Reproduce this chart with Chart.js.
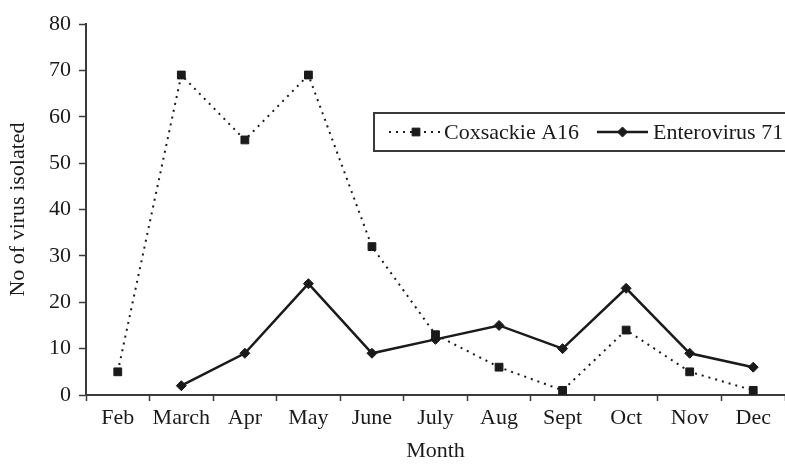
<!DOCTYPE html>
<html>
<head>
<meta charset="utf-8">
<title>Virus isolations by month</title>
<script src="https://cdn.jsdelivr.net/npm/chart.js@4/dist/chart.umd.min.js"></script>
<style>
  html, body { margin: 0; padding: 0; background: #fff; overflow: hidden; }
  .chart-wrapper { position: relative; width: 785px; height: 464px; }
</style>
</head>
<body>
<div class="chart-wrapper"><canvas id="virus-chart"></canvas></div>
<script>
// data
const months = ['Feb', 'March', 'Apr', 'May', 'June', 'July', 'Aug', 'Sept', 'Oct', 'Nov', 'Dec'];
const coxsackieA16 = [5, 69, 55, 69, 32, 13, 6, 1, 14, 5, 1];
const enterovirus71 = [null, 2, 9, 24, 9, 12, 15, 10, 23, 9, 6];
const yTicks = [0, 10, 20, 30, 40, 50, 60, 70, 80];

const FONT = "'Liberation Serif', 'Times New Roman', serif";
const INK = '#1a1a1a';
const AXIS = '#3a3a3a';

// boxed legend sitting inside the plot, like the original figure
const boxLegend = {
  id: 'boxLegend',
  afterDraw(chart) {
    const ctx = chart.ctx;
    const top = 113, bottom = 151, left = 374;
    const midY = (top + bottom) / 2;
    ctx.save();
    ctx.strokeStyle = AXIS;
    ctx.lineWidth = 2;
    ctx.strokeRect(left, top, chart.width - left + 10, bottom - top);

    const entries = [
      { ds: chart.data.datasets[0], x0: 389, x1: 443, tx: 444 },
      { ds: chart.data.datasets[1], x0: 597, x1: 648, tx: 653 },
    ];
    entries.forEach(({ ds, x0, x1, tx }) => {
      ctx.beginPath();
      ctx.setLineDash(ds.borderDash || []);
      ctx.lineWidth = ds.borderWidth;
      ctx.strokeStyle = ds.borderColor;
      ctx.moveTo(x0, midY);
      ctx.lineTo(x1, midY);
      ctx.stroke();
      ctx.setLineDash([]);
      ctx.fillStyle = ds.pointBackgroundColor;
      ctx.strokeStyle = ds.pointBorderColor;
      ctx.lineWidth = ds.pointBorderWidth;
      Chart.helpers.drawPoint(ctx, {
        pointStyle: ds.pointStyle,
        radius: ds.pointRadius,
        borderWidth: ds.pointBorderWidth,
        rotation: 0,
      }, (x0 + x1) / 2, midY);
      ctx.fillStyle = INK;
      ctx.font = `22px ${FONT}`;
      ctx.textBaseline = 'middle';
      ctx.textAlign = 'left';
      ctx.fillText(ds.label, tx, midY + 1);
    });
    ctx.restore();
  },
};

const ctx = document.getElementById('virus-chart').getContext('2d');
new Chart(ctx, {
  type: 'line',
  data: {
    labels: months,
    datasets: [
      {
        label: 'Coxsackie A16',
        data: coxsackieA16,
        borderColor: INK,
        borderWidth: 2,
        borderDash: [2, 5],
        pointStyle: 'rect',
        pointRadius: 5.5,
        pointBorderWidth: 1,
        pointBackgroundColor: INK,
        pointBorderColor: INK,
        tension: 0,
      },
      {
        label: 'Enterovirus 71',
        data: enterovirus71,
        borderColor: INK,
        borderWidth: 2.5,
        pointStyle: 'rectRot',
        pointRadius: 5,
        pointBorderWidth: 1,
        pointBackgroundColor: INK,
        pointBorderColor: INK,
        tension: 0,
      },
    ],
  },
  options: {
    responsive: true,
    maintainAspectRatio: false,
    animation: false,
    // the plot runs right up to the canvas edge in the original
    layout: { autoPadding: false, padding: { top: 24, right: 0, bottom: 0, left: 0 } },
    plugins: {
      legend: { display: false },
      tooltip: { enabled: false },
    },
    scales: {
      x: {
        type: 'category',
        offset: true,
        grid: { offset: true, drawOnChartArea: false, tickLength: 6, tickColor: AXIS, tickWidth: 1.5 },
        border: { display: true, color: AXIS, width: 2 },
        ticks: { color: INK, font: { family: FONT, size: 22 }, padding: 4, maxRotation: 0, autoSkip: false },
        title: { display: true, text: 'Month', color: INK, font: { family: FONT, size: 22 }, padding: { top: 0, bottom: 0 } },
        afterFit: s => { s.height = 69; },
      },
      y: {
        min: 0,
        max: 80,
        afterBuildTicks: s => { s.ticks = yTicks.map(v => ({ value: v })); },
        grid: { drawOnChartArea: false, tickLength: 7, tickColor: AXIS, tickWidth: 1.5 },
        border: { display: true, color: AXIS, width: 2 },
        ticks: { color: INK, font: { family: FONT, size: 22 }, padding: 8 },
        title: { display: true, text: 'No of virus isolated', color: INK, font: { family: FONT, size: 22 }, padding: { top: 5, bottom: 0 } },
        afterFit: s => { s.width = 86; },
      },
    },
  },
  plugins: [boxLegend],
});
</script>
</body>
</html>
